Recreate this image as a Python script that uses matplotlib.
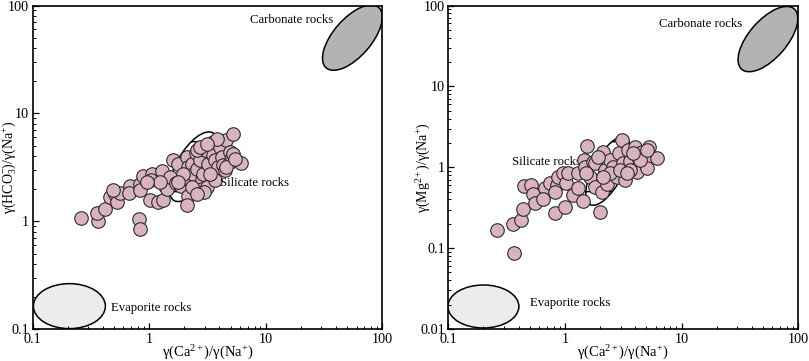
import numpy as np
import matplotlib
matplotlib.use("Agg")
import matplotlib.pyplot as plt
from matplotlib.patches import Ellipse
from matplotlib.transforms import ScaledTranslation
from matplotlib.ticker import LogLocator, FuncFormatter, NullFormatter

plt.rcParams['font.family'] = ['Liberation Serif', 'DejaVu Serif']
plt.rcParams['mathtext.fontset'] = 'custom'
plt.rcParams['mathtext.rm'] = 'Liberation Serif'
plt.rcParams['mathtext.it'] = 'Liberation Serif:italic'

# ---- data: left panel, Ca/Na vs HCO3/Na ----
ca_na_left = [0.258, 0.366, 0.354, 0.417, 0.46, 0.51, 0.525, 0.56, 0.49, 0.68,
              0.67, 0.83, 0.88, 0.83, 1.05, 1.03, 1.01, 0.82, 0.84, 1.2,
              1.32, 1.3, 1.36, 1.41, 1.5, 1.61, 1.77, 1.71, 1.89, 2.09,
              2.16, 2.23, 2.16, 2.13, 2.31, 2.38, 2.51, 2.55, 2.72, 2.81,
              2.81, 2.9, 3.0, 3.2, 3.1, 3.54, 3.54, 3.66, 3.66, 3.9,
              4.03, 4.17, 4.31, 4.45, 4.6, 4.91, 4.91, 5.08, 5.25, 5.25,
              6.18, 2.55, 1.96, 2.31, 2.94, 3.31, 1.23, 0.95, 2.72, 3.78,
              3.1, 1.77, 2.55, 4.6, 5.42]
hco3_na_left = [1.07, 1.0, 1.19, 1.30, 1.67, 1.79, 1.5, 1.82, 1.95, 2.1,
                1.82, 2.22, 2.6, 1.95, 2.75, 2.39, 1.56, 1.05, 0.85, 1.5,
                1.56, 2.91, 2.14, 2.0, 2.56, 3.66, 3.41, 2.25, 2.14, 3.93,
                3.18, 2.39, 1.73, 1.4, 3.41, 2.75, 4.28, 3.06, 3.66, 2.39,
                2.0, 2.75, 4.53, 3.41, 2.07, 5.42, 4.07, 3.66, 2.39, 3.18,
                4.86, 3.93, 3.29, 2.96, 5.61, 4.37, 3.53, 3.93, 6.47, 4.22,
                3.46, 4.53, 2.75, 2.07, 1.86, 2.75, 2.3, 2.3, 4.86, 5.82,
                5.22, 2.3, 1.79, 3.18, 3.79]

# ---- data: right panel, Ca/Na vs Mg/Na ----
ca_na_right = [0.26, 0.368, 0.356, 0.417, 0.44, 0.446, 0.51, 0.53, 0.55, 0.67,
               0.65, 0.74, 0.82, 0.85, 0.88, 0.97, 1.01, 1.03, 1.07, 1.18,
               1.3, 1.3, 1.44, 1.45, 1.55, 1.48, 1.64, 1.73, 1.81, 1.81,
               2.0, 2.1, 2.06, 2.2, 2.28, 2.43, 2.6, 2.77, 2.92, 3.06,
               3.16, 3.27, 3.49, 3.61, 3.85, 3.98, 4.17, 4.25, 4.54, 4.85,
               5.18, 5.28, 5.08, 6.1, 2.43, 2.96, 3.61, 1.93, 1.53, 4.4,
               2.13, 5.01, 3.85, 3.38, 0.82]
mg_na_right = [0.166, 0.088, 0.197, 0.221, 0.303, 0.58, 0.61, 0.47, 0.36, 0.55,
               0.41, 0.64, 0.275, 0.6, 0.76, 0.84, 0.32, 0.64, 0.86, 0.45,
               0.55, 0.84, 0.38, 1.23, 1.83, 1.01, 0.76, 1.17, 0.57, 1.12,
               0.28, 1.56, 0.5, 0.92, 0.63, 1.23, 1.01, 0.76, 1.51, 2.17,
               1.12, 0.69, 1.63, 1.19, 0.92, 1.8, 0.88, 1.35, 1.56, 1.12,
               1.38, 1.8, 0.97, 1.29, 0.84, 0.92, 0.92, 1.35, 0.84, 1.23,
               0.76, 1.63, 1.49, 0.84, 0.5]

fig = plt.figure(figsize=(8.09, 3.61), dpi=100)
ax1 = fig.add_axes([0.0402, 0.0886, 0.4326, 0.896])
ax2 = fig.add_axes([0.5541, 0.0886, 0.4326, 0.896])

point_color = '#d9b3bf'
edge_color = '#2b2b2b'


def add_ellipse(ax, cx, cy, w_px, h_px, angle, face, hatch=None, z=1):
    tr = fig.dpi_scale_trans + ScaledTranslation(cx, cy, ax.transData)
    e = Ellipse((0, 0), w_px / 100.0, h_px / 100.0, angle=angle,
                facecolor=face, edgecolor='black', linewidth=1.1,
                hatch=hatch, transform=tr, zorder=z)
    ax.add_patch(e)


def fmt(v, pos):
    return '%g' % v


def style_axis(ax, ymin, ymax):
    ax.set_xscale('log')
    ax.set_yscale('log')
    ax.set_xlim(0.1, 100)
    ax.set_ylim(ymin, ymax)
    ax.xaxis.set_major_locator(LogLocator(base=10, numticks=10))
    ax.yaxis.set_major_locator(LogLocator(base=10, numticks=10))
    ax.xaxis.set_minor_locator(LogLocator(base=10, subs=np.arange(2, 10), numticks=20))
    ax.yaxis.set_minor_locator(LogLocator(base=10, subs=np.arange(2, 10), numticks=20))
    ax.xaxis.set_major_formatter(FuncFormatter(fmt))
    ax.yaxis.set_major_formatter(FuncFormatter(fmt))
    ax.xaxis.set_minor_formatter(NullFormatter())
    ax.yaxis.set_minor_formatter(NullFormatter())
    ax.tick_params(which='both', direction='in', top=False, right=False,
                   labelsize=10.3, pad=3)
    ax.tick_params(axis='y', pad=2.5)
    ax.tick_params(which='major', length=4, width=0.9)
    ax.tick_params(which='minor', length=2.2, width=0.7)
    for s in ax.spines.values():
        s.set_linewidth(1.2)
    ax.set_xlabel(r'γ(Ca$^{2+}$)/γ(Na$^{+}$)', fontsize=10.5)
    ax.xaxis.set_label_coords(0.5, -0.046)


style_axis(ax1, 0.1, 100)
style_axis(ax2, 0.01, 100)

# Left panel
add_ellipse(ax1, 55.2, 50.4, 80, 38, 49, '#b3b3b3', z=1)
add_ellipse(ax1, 0.207, 0.163, 72, 45, 0, '#ececec', z=1)
add_ellipse(ax1, 2.4, 3.2, 78, 34, 60, 'white', hatch='-', z=1)
ax1.scatter(ca_na_left, hco3_na_left, s=95, c=point_color, edgecolors=edge_color,
            linewidths=0.8, zorder=3)
ax1.text(7.3, 73, 'Carbonate rocks', fontsize=9.2, va='center', ha='left')
ax1.text(4.05, 2.25, 'Silicate rocks', fontsize=9.2, va='center', ha='left', zorder=4)
ax1.text(0.47, 0.156, 'Evaporite rocks', fontsize=9.2, va='center', ha='left')
ax1.set_ylabel(r'γ(HCO$_3^{-}$)/γ(Na$^{+}$)', fontsize=10)
ax1.yaxis.set_label_coords(-0.040, 0.5)

# Right panel
add_ellipse(ax2, 55, 38.5, 80, 38, 49, '#b3b3b3', z=1)
add_ellipse(ax2, 0.2, 0.019, 71, 43, 0, '#ececec', z=1)
add_ellipse(ax2, 2.34, 0.9, 76, 30, 62, 'white', hatch='-', z=1)
ax2.scatter(ca_na_right, mg_na_right, s=95, c=point_color, edgecolors=edge_color,
            linewidths=0.8, zorder=3)
ax2.text(6.4, 59, 'Carbonate rocks', fontsize=9.2, va='center', ha='left')
ax2.text(0.35, 1.16, 'Silicate rocks', fontsize=9.2, va='center', ha='left', zorder=2)
ax2.text(0.5, 0.021, 'Evaporite rocks', fontsize=9.2, va='center', ha='left')
ax2.set_ylabel(r'γ(Mg$^{2+}$)/γ(Na$^{+}$)', fontsize=10)
ax2.yaxis.set_label_coords(-0.045, 0.5)

fig.savefig('out.png', dpi=100)
